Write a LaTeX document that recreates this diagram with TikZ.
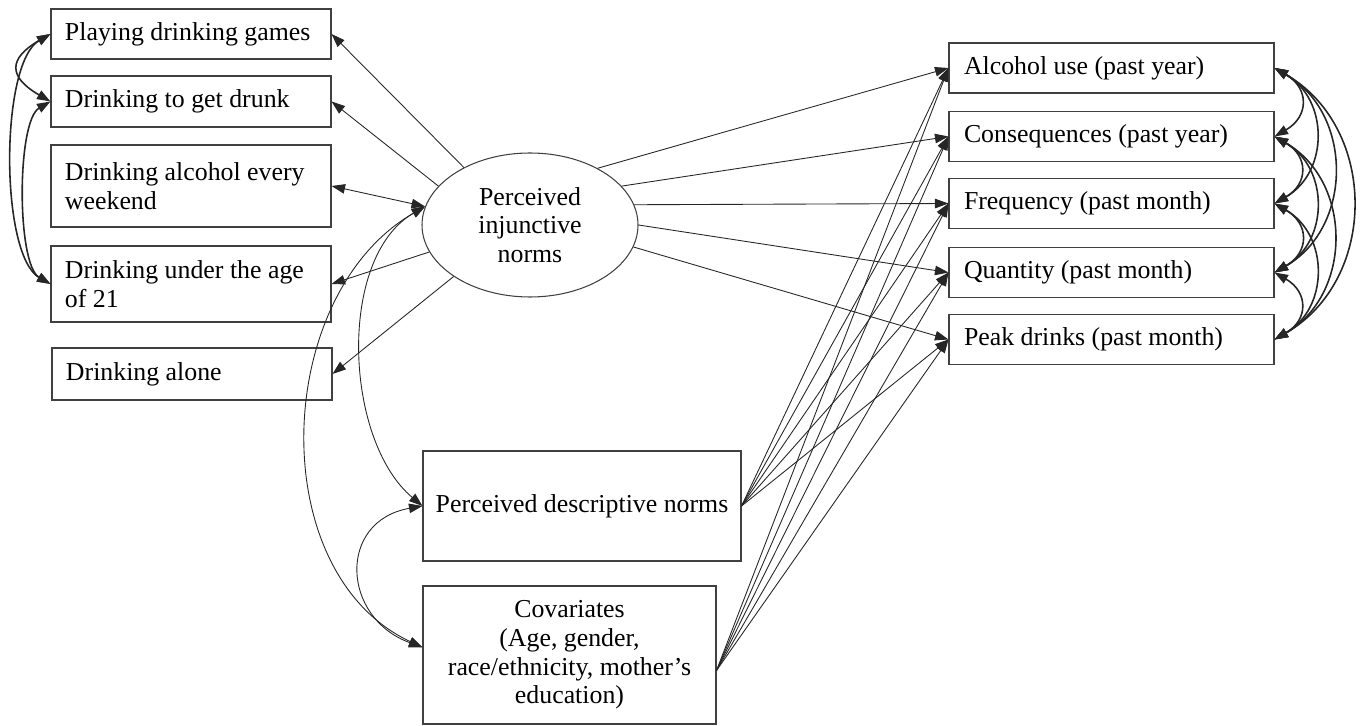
\documentclass[tikz,border=0pt]{standalone}
\usepackage{fontspec}
\setmainfont{Liberation Serif}
\usetikzlibrary{shapes.geometric,arrows.meta}

\tikzset{
  box/.style={draw=black!75, line width=0.6pt, rectangle, inner sep=0pt, font=\fontsize{14.7}{16.3}\selectfont},
  lbox/.style={box, align=flush left, text width=50.4mm, inner xsep=2.8mm},
  rbox/.style={box, align=flush left, text width=59mm, inner xsep=3mm, minimum height=10mm},
  mbox/.style={box, align=center},
  kov/.style={<->, line width=0.9pt},
}

\begin{document}
\begin{tikzpicture}[x=0.2mm, y=0.2mm, line width=0.5pt, draw=black!85,
  >={Triangle[length=2.7mm,width=1.9mm]}]
\useasboundingbox (0,0) rectangle (1360,-726);

% Kaesten links
\node[lbox, minimum height=10mm] (play) at (191,-34) {Playing drinking games};
\node[lbox, minimum height=10.2mm] (drunk) at (191,-101.5) {Drinking to get drunk};
\node[lbox, minimum height=16.4mm] (week) at (191,-186) {Drinking alcohol every\\weekend\\[-2mm]};
\node[lbox, minimum height=15.2mm] (under) at (191,-284) {Drinking under the age\\of 21};
\node[lbox, minimum height=10.4mm] (alone) at (192,-374) {Drinking alone};

% Ellipse
\node[draw=black!75, line width=0.6pt, ellipse, minimum width=43.2mm, minimum height=28.8mm, inner sep=0pt,
  align=center, font=\fontsize{14.7}{16.3}\selectfont] (inj) at (530,-225) {Perceived\\injunctive\\norms};

% Mitte unten
\node[mbox, minimum width=63.6mm, minimum height=22mm] (desc) at (582,-506) {Perceived descriptive norms};
\node[mbox, minimum width=58.6mm, minimum height=27.6mm] (cov) at (569.5,-655) {Covariates\\(Age, gender,\\race/ethnicity, mother’s\\education)};

% Kaesten rechts
\node[rbox] (alc) at (1111.5,-68) {Alcohol use (past year)};
\node[rbox] (cons) at (1111.5,-136.5) {Consequences (past year)};
\node[rbox] (freq) at (1111.5,-203.5) {Frequency (past month)};
\node[rbox] (quan) at (1111.5,-272.5) {Quantity (past month)};
\node[rbox] (peak) at (1111.5,-339.5) {Peak drinks (past month)};

% Ellipse -> links
\draw[->] (inj.139) -- (play.east);
\draw[->] (inj.157) -- (drunk.east);
\draw[<->] (inj.170) -- (week.east);
\draw[->] (inj.195) -- (under.east);
\draw[->] (inj.214) -- (alone.east);

% Ellipse -> rechts
\draw[->] (inj.40) -- (alc.west);
\draw[->] (inj.23) -- (cons.west);
\draw[->] (inj.11) -- (freq.west);
\draw[->] (inj.0) -- (quan.west);
\draw[->] (inj.-12) -- (peak.west);

% Normen und Kovariaten -> rechts
\foreach \z in {alc,cons,freq,quan,peak}{
  \draw[->] (desc.east) -- (\z.west);
  \draw[->] (cov.-6) -- (\z.west);
}

% Boegen in der Mitte
\draw[<->] (inj.170) to[out=210,in=140,looseness=0.87] (desc.west);
\draw[<->] (inj.170) to[out=210,in=155,looseness=1.02] (cov.177);
\draw[<->] (desc.west) to[out=190,in=160,looseness=1.57] (cov.177);

% Kovarianzen links
\draw[kov] (play.west) to[out=210,in=150,looseness=1.86] (drunk.west);
\draw[kov] (drunk.west) to[out=210,in=150,looseness=0.55] (under.west);
\draw[kov] (play.west) to[out=210,in=150,looseness=0.6] (under.west);

% Kovarianzen rechts
\foreach \a/\b/\l in {alc/cons/1.5, cons/freq/1.5, freq/quan/1.5, quan/peak/1.5,
  alc/freq/1.19, cons/quan/1.19, freq/peak/1.19,
  alc/quan/1.14, cons/peak/1.14, alc/peak/1.13}
  \draw[kov] (\a.east) to[out=-30,in=30,looseness=\l] (\b.east);

\end{tikzpicture}
\end{document}
